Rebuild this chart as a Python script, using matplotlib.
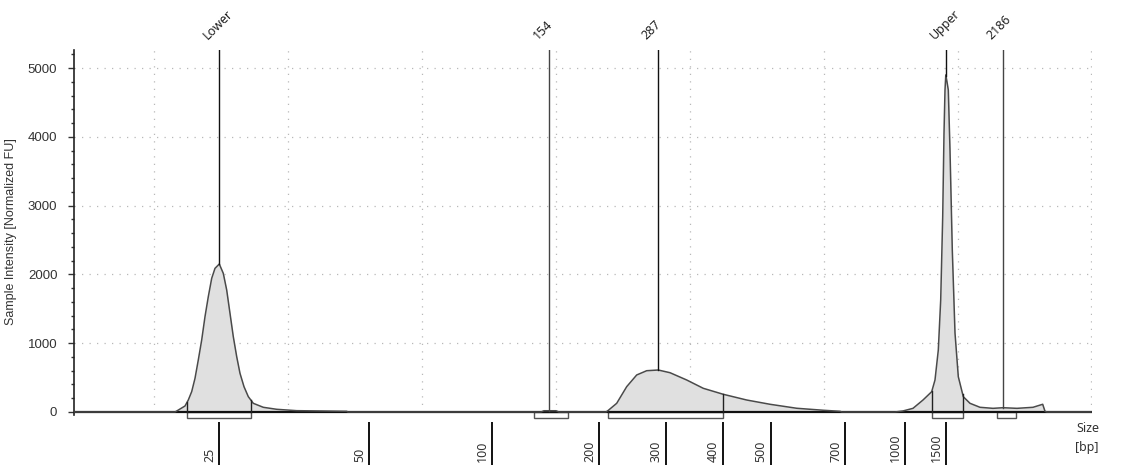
import numpy as np
import matplotlib
matplotlib.use("Agg")
import matplotlib.pyplot as plt
from matplotlib.patches import Rectangle

# ── Data (x in migration position units, y in normalized FU) ───────────────
curve_pos = [74, 175, 176.7, 185, 188.3, 191.7, 195, 198.3, 201.7, 205, 208.3,
             211.7, 215, 219.3, 223.3, 226.7, 230, 233.3, 236.7, 240, 244,
             248.3, 253.3, 263.3, 276.7, 296.7, 346.7, 348,
             541, 544, 556, 559,
             606, 608, 616.7, 626.7, 636.7, 646.7, 658.3, 670, 686.7, 703.3,
             723.3, 746.7, 770, 796.7, 823.3, 840, 842,
             895, 903, 913, 923, 931.7, 935, 938.3, 940.7, 942.7, 944, 945,
             945.8, 947, 948.3, 950, 952.3, 955, 958.3, 963.3, 970, 980, 993,
             1003, 1017, 1033, 1042.7, 1045, 1047, 1091]
curve_fu = [0, 0, 14, 87, 174, 296, 489, 756, 1047, 1386, 1676,
            1943, 2088, 2151, 2015, 1773, 1434, 1095, 804, 562, 368,
            223, 126, 68, 39, 19, 10, 0,
            0, 18, 18, 0,
            0, 20, 126, 368, 538, 600, 610, 571, 465, 344,
            257, 174, 112, 54, 25, 10, 0,
            0, 15, 53, 174, 295, 465, 900, 1627, 2838, 4050, 4680,
            4900, 4800, 4680, 3807, 2354, 1148, 513, 222, 126, 68, 53,
            62, 53, 68, 112, 10, 0, 0]

peak_labels = ["Lower", "154", "287", "Upper", "2186"]
peak_pos = [219.3, 549, 657.5, 946, 1003]
peak_colors = ["#111111", "#444444", "#111111", "#111111", "#444444"]

# integration regions (start, end)
region_start = [187, 534, 608, 932, 997]
region_end = [251, 568, 723, 962.5, 1016]
region_edges_drawn = [True, False, True, True, False]

ladder_bp = ["25", "50", "100", "200", "300", "400", "500", "700", "1000", "1500"]
ladder_pos = [219.3, 369.3, 491.5, 599, 665.7, 722.7, 770.5, 845, 905, 946]

grid_pos = [154.2, 288.1, 422, 556, 689.9, 823.8, 957.7, 1091.3]
y_major = [0, 1000, 2000, 3000, 4000, 5000]

# ── Figure ─────────────────────────────────────────────────────────────────
W, H, DPI = 1125, 466, 100
fig = plt.figure(figsize=(W / DPI, H / DPI), dpi=DPI, facecolor="white")
ax = fig.add_axes([74 / W, 1 - 422.3 / H, (1091.5 - 74) / W, (422.3 - 50) / H])
ax.set_xlim(74, 1091.5)
ax.set_ylim(-150, 5262)

FONT = ["Liberation Sans", "DejaVu Sans"]
FONT2 = ["Noto Sans", "DejaVu Sans"]
TXT = "#333333"

# grid
dot = (0, (1, 5))
for g in grid_pos:
    ax.plot([g, g], [0, 5262], color="#b8b8b8", lw=0.9, ls=dot, zorder=1)
for yv in y_major[1:]:
    ax.plot([74, 1091.5], [yv, yv], color="#b8b8b8", lw=0.9, ls=dot, zorder=1)

# curve + fill
ax.fill_between(curve_pos, 0, curve_fu, color="#e0e0e0", lw=0, zorder=2)

# region boxes below baseline
for s, e in zip(region_start, region_end):
    ax.add_patch(Rectangle((s, -85), e - s, 85, facecolor="white",
                           edgecolor="#555555", lw=1.0, zorder=3))

# baseline
ax.plot([74, 1091.5], [0, 0], color="#111111", lw=1.6, zorder=4)
ax.plot(curve_pos, curve_fu, color="#4a4a4a", lw=1.1, zorder=5)

# region edge lines up to the curve
for s, e, d in zip(region_start, region_end, region_edges_drawn):
    if not d:
        continue
    for xe in (s, e):
        ax.plot([xe, xe], [0, np.interp(xe, curve_pos, curve_fu)],
                color="#222222", lw=1.0, zorder=6)

# peak marker lines + rotated labels
for lab, xp, c in zip(peak_labels, peak_pos, peak_colors):
    top = np.interp(xp, curve_pos, curve_fu)
    ax.plot([xp, xp], [top, 5262], color=c, lw=1.0, zorder=6)
    ax.annotate(lab, xy=(xp, 1), xycoords=("data", "axes fraction"),
                xytext=(-6.5, 5.5), textcoords="offset points",
                rotation=45, rotation_mode="anchor", ha="left", va="bottom",
                fontsize=9, color="#222222", family=FONT2, annotation_clip=False)

# y axis
ax.set_yticks(y_major)
ax.set_yticks(np.arange(0, 5262, 200), minor=True)
ax.set_yticklabels([str(v) for v in y_major], fontsize=9.5, color=TXT, family=FONT)
ax.tick_params(axis="y", which="major", length=4, width=1, color="#333333", pad=8)
ax.tick_params(axis="y", which="minor", length=2.5, width=1, color="#333333")
ax.spines["left"].set_bounds(-40, 5262)
ax.spines["left"].set_color("#222222")
ax.spines["left"].set_linewidth(1.2)
for sp in ("top", "right", "bottom"):
    ax.spines[sp].set_visible(False)
fig.text(11 / W, 1 - 232 / H, "Sample Intensity [Normalized FU]", rotation=90,
         ha="center", va="center", fontsize=9, color=TXT, family=FONT)

# x axis: ladder ticks with labels beside them
ax.set_xticks(ladder_pos)
ax.set_xticklabels([])
ax.tick_params(axis="x", which="major", direction="out", length=31,
               width=1.4, color="#111111")
for lab, xp in zip(ladder_bp, ladder_pos):
    ax.annotate(lab, xy=(xp, 0), xycoords=("data", "axes fraction"),
                xytext=(-2.0, -28.8), textcoords="offset points",
                rotation=90, ha="right", va="bottom", fontsize=9,
                color=TXT, family=FONT2, annotation_clip=False)

fig.text(1076 / W, 1 - 428 / H, "Size", ha="left", va="center",
         fontsize=9, color=TXT, family=FONT2)
fig.text(1075 / W, 1 - 448 / H, "[bp]", ha="left", va="center",
         fontsize=9, color=TXT, family=FONT2)

fig.savefig("out.png", dpi=DPI, facecolor="white")
plt.close(fig)
